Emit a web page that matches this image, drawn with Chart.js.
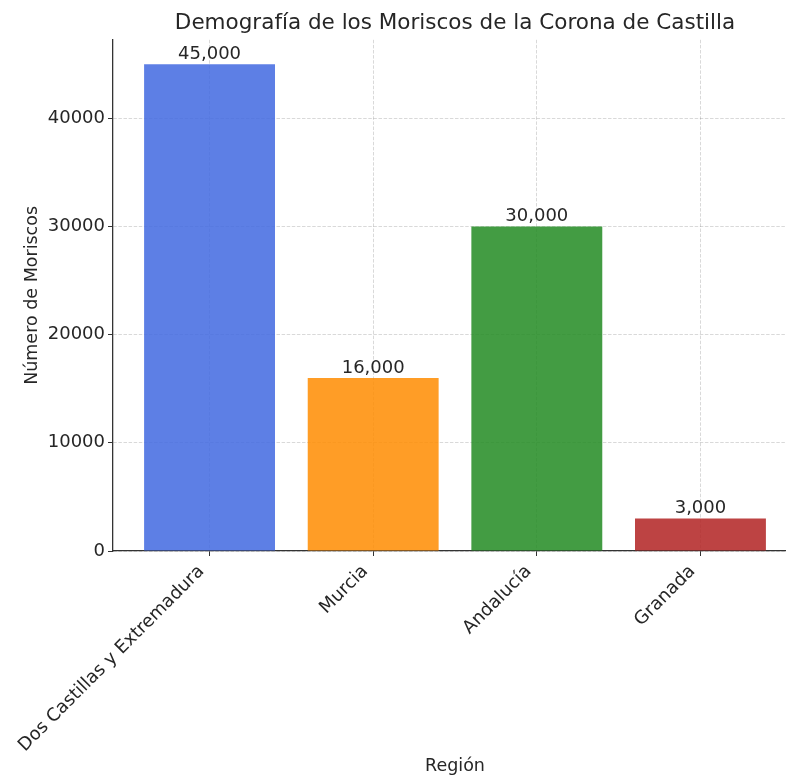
<!DOCTYPE html>
<html>
<head>
<meta charset="utf-8">
<script src="https://cdn.jsdelivr.net/npm/chart.js@4.4.1/dist/chart.umd.min.js"></script>
<style>
    html, body { margin: 0; padding: 0; background: #fff; overflow: hidden; }
    #wrap { width: 797px; height: 780px; }
</style>
</head>
<body>
<div id="wrap"><canvas id="chart-bar" width="797" height="780"></canvas></div>
<script>
// Datos del gráfico
const regiones = ['Dos Castillas y Extremadura', 'Murcia', 'Andalucía', 'Granada'];
const moriscos = [45000, 16000, 30000, 3000];
const coloresBarras = ['rgba(65,105,225,0.85)', 'rgba(255,140,0,0.85)', 'rgba(34,139,34,0.85)', 'rgba(178,34,34,0.85)'];
const yTicks = [0, 10000, 20000, 30000, 40000];

const fuente = 'DejaVu Sans';
const textColor = '#262626';

// Etiquetas con el valor encima de cada barra
const valueLabels = {
    id: 'valueLabels',
    afterDatasetsDraw(chart) {
        const ctx = chart.ctx;
        const meta = chart.getDatasetMeta(0);
        ctx.save();
        ctx.font = '18px "' + fuente + '"';
        ctx.fillStyle = textColor;
        ctx.textAlign = 'center';
        ctx.textBaseline = 'bottom';
        meta.data.forEach((bar, i) => {
            ctx.fillText(moriscos[i].toLocaleString('en-US'), bar.x, bar.y - 1);
        });
        ctx.restore();
    }
};

const ctx = document.getElementById('chart-bar').getContext('2d');
new Chart(ctx, {
    type: 'bar',
    data: {
        datasets: [{
            data: moriscos.map((v, i) => ({ x: i, y: v })),
            backgroundColor: coloresBarras,
            borderWidth: 0,
            barPercentage: 0.8,
            categoryPercentage: 1.0
        }]
    },
    options: {
        responsive: false,
        animation: false,
        layout: { padding: 0 },
        plugins: {
            legend: { display: false },
            tooltip: { enabled: false },
            title: {
                display: true,
                text: 'Demografía de los Moriscos de la Corona de Castilla',
                fullSize: false,
                color: textColor,
                font: { family: fuente, size: 21.5, weight: 'normal' },
                padding: { top: 11, bottom: 3 }
            }
        },
        scales: {
            x: {
                type: 'linear',
                min: -0.59,
                max: 3.59,
                offset: false,
                z: 1,
                afterBuildTicks: s => { s.ticks = regiones.map((_, i) => ({ value: i })); },
                afterFit: s => { s.height = 229; },
                ticks: {
                    autoSkip: false,
                    minRotation: 45,
                    maxRotation: 45,
                    padding: 5,
                    labelOffset: -8,
                    color: textColor,
                    font: { family: fuente, size: 18 },
                    callback: v => regiones[v]
                },
                grid: {
                    offset: false,
                    color: 'rgba(0,0,0,0.15)',
                    lineWidth: 1,
                    tickLength: 5,
                    tickColor: '#333',
                    tickBorderDash: []
                },
                border: { display: true, color: '#333', width: 1.3, dash: [3.5, 1.6] },
                title: {
                    display: true,
                    text: 'Región',
                    color: textColor,
                    font: { family: fuente, size: 17.5 },
                    padding: { top: 0, bottom: 3 }
                }
            },
            y: {
                min: 0,
                max: 47250,
                z: 1,
                afterBuildTicks: s => { s.ticks = yTicks.map(v => ({ value: v })); },
                afterFit: s => { s.width = 113; },
                ticks: {
                    padding: 3,
                    color: textColor,
                    font: { family: fuente, size: 18 },
                    callback: v => String(v)
                },
                grid: {
                    color: 'rgba(0,0,0,0.15)',
                    lineWidth: 1,
                    tickLength: 5,
                    tickColor: '#333',
                    tickBorderDash: []
                },
                border: { display: true, color: '#333', width: 1.3, dash: [3.5, 1.6] },
                title: {
                    display: true,
                    text: 'Número de Moriscos',
                    color: textColor,
                    font: { family: fuente, size: 17.5 },
                    padding: { top: 22, bottom: 0 }
                }
            }
        }
    },
    plugins: [valueLabels]
});
</script>
</body>
</html>
